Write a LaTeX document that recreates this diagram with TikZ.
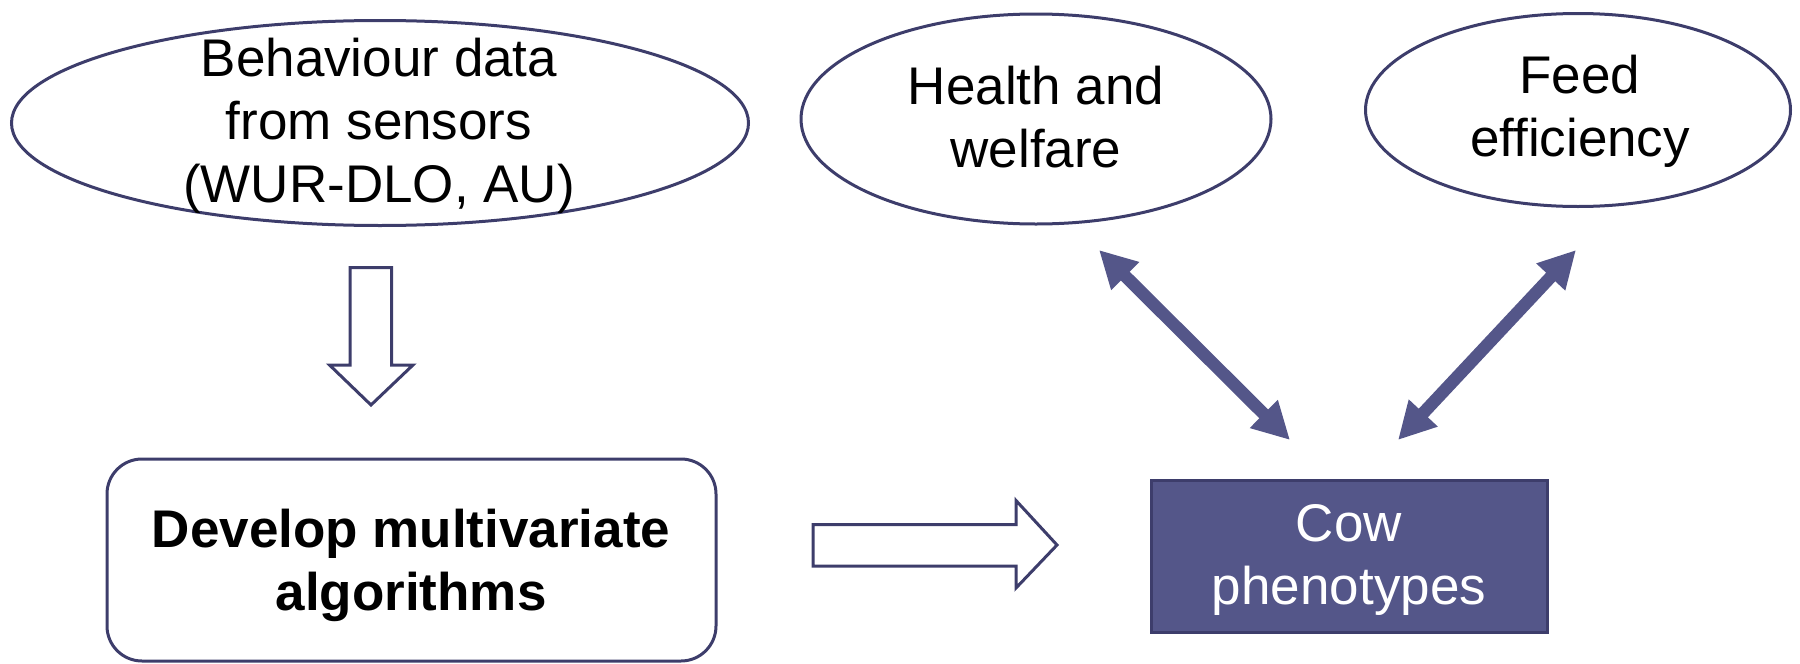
\documentclass[tikz,border=0pt]{standalone}
\usepackage{fontspec}
\setmainfont{Liberation Sans}
\usetikzlibrary{shapes.geometric,arrows.meta}
\definecolor{navy}{HTML}{3D3D6B}
\definecolor{violetfill}{HTML}{545689}
\begin{document}
\begin{tikzpicture}[x=1pt,y=-1pt,
  txt/.style={font=\fontsize{53}{63}\selectfont, align=center, inner sep=0pt},
  oval/.style={ellipse, draw=navy, line width=3pt, inner sep=0pt},
  hollow/.style={draw=navy, line width=3pt, fill=white, line join=miter},
  dbl/.style={draw=violetfill, line width=12.5pt, {Triangle[length=37pt,width=37pt]}-{Triangle[length=37pt,width=37pt]}}]
\useasboundingbox (0,0) rectangle (1800,664);
% ovals
\node[oval, minimum width=737pt, minimum height=205pt] (behov) at (380,123) {};
\node[txt] (beh) at (379,126) {Behaviour data\\from sensors\\(WUR-DLO, AU)};
\node[oval, minimum width=470pt, minimum height=210pt] (healthov) at (1036,119) {};
\node[txt] (health) at (1036,117.5) {Health and\\welfare};
\node[oval, minimum width=425pt, minimum height=193pt] (feedov) at (1578,110) {};
\node[txt] (feed) at (1580,111) {Feed\\efficiency};
% boxes
\node[draw=navy, line width=3pt, rounded corners=35pt, minimum width=609pt, minimum height=202pt, inner sep=0pt] (devbox) at (411.5,560) {};
\node[txt, font=\fontsize{53}{63}\selectfont\bfseries] (dev) at (411,565.5) {Develop multivariate\\algorithms};
\node[fill=violetfill, draw=navy, line width=3pt, minimum width=396pt, minimum height=152pt, inner sep=0pt] (cowbox) at (1349.5,556) {};
\node[txt, text=white] (cow) at (1349,559.5) {Cow\\phenotypes};
% hollow block arrows
\draw[hollow] (350,267.5) -- (391.5,267.5) -- (391.5,365) -- (413,365) -- (371,405) -- (329.5,365) -- (350,365) -- cycle;
\draw[hollow] (813,524.6) -- (1016,524.6) -- (1016,500.5) -- (1057,545) -- (1016,588) -- (1016,566) -- (813,566) -- cycle;
% double arrows
\coordinate (h1) at (1099,250);
\coordinate (c1) at (1290,440);
\coordinate (f1) at (1576,250);
\coordinate (c2) at (1398,440);
\draw[dbl] (h1) -- (c1);
\draw[dbl] (f1) -- (c2);
\end{tikzpicture}
\end{document}
